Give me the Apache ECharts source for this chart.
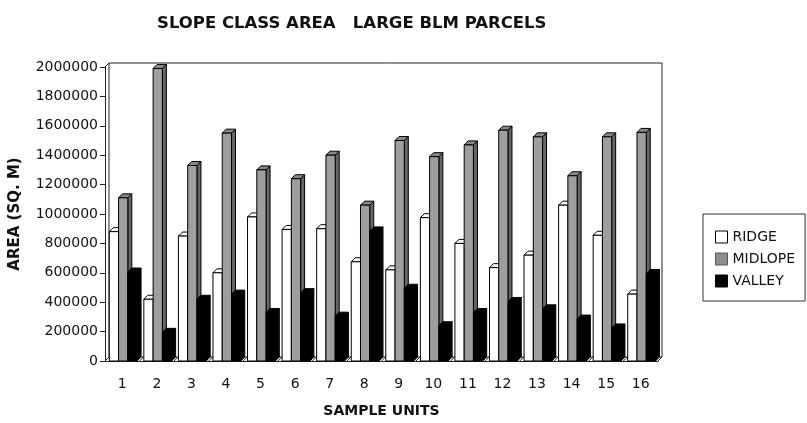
<!DOCTYPE html>
<html>
<head>
<meta charset="utf-8">
<script src="https://cdn.jsdelivr.net/npm/echarts@6/dist/echarts.min.js"></script>
<style>
  html, body { margin: 0; padding: 0; background: #fff; }
  #chart { width: 807px; height: 423px; }
</style>
</head>
<body>
<div id="chart"></div>
<script>
// Sample units along the x axis
var sampleUnits = ['1','2','3','4','5','6','7','8','9','10','11','12','13','14','15','16'];

// Slope class areas (sq. m) per sample unit
var ridge   = [880000, 420000, 850000, 600000, 980000, 895000, 900000, 675000, 620000, 975000, 800000, 635000, 720000, 1060000, 855000, 455000];
var midlope = [1110000, 1990000, 1330000, 1550000, 1300000, 1240000, 1400000, 1060000, 1500000, 1390000, 1470000, 1570000, 1525000, 1260000, 1525000, 1555000];
var valley  = [605000, 195000, 420000, 455000, 330000, 465000, 305000, 885000, 495000, 240000, 330000, 405000, 355000, 285000, 225000, 595000];

var FONT = 'DejaVu Sans';
var DEPTH = 4;

// Palette for each slope class: front face, top cap, side face
var styles = {
  RIDGE:   { front: '#ffffff', top: '#ffffff', side: '#ffffff' },
  MIDLOPE: { front: '#9e9e9e', top: '#888888', side: '#666666' },
  VALLEY:  { front: '#000000', top: '#000000', side: '#000000' }
};

// Pseudo-3D column: front rectangle, top parallelogram and right side face
function barSeries(name, values, slot) {
  var st = styles[name];
  return {
    name: name,
    type: 'custom',
    itemStyle: { color: st.front, borderColor: '#000', borderWidth: 1 },
    encode: { x: 0, y: 1 },
    data: values.map(function (v, i) { return [i, v]; }),
    renderItem: function (params, api) {
      var idx = api.value(0);
      var top = api.coord([idx, api.value(1)]);
      var base = api.coord([idx, 0]);
      var band = api.size([1, 0])[0];
      var w = band * 0.268;
      var x = top[0] - band / 2 + band * 0.124 + slot * w;
      var yt = top[1], yb = base[1], d = DEPTH;
      var line = { stroke: '#000', lineWidth: 1 };
      return {
        type: 'group',
        children: [
          { type: 'polygon', shape: { points: [[x + w, yt], [x + w + d, yt - d], [x + w + d, yb - d], [x + w, yb]] },
            style: Object.assign({ fill: st.side }, line) },
          { type: 'polygon', shape: { points: [[x, yt], [x + w, yt], [x + w + d, yt - d], [x + d, yt - d]] },
            style: Object.assign({ fill: st.top }, line) },
          { type: 'rect', shape: { x: x, y: yt, width: w, height: yb - yt },
            style: Object.assign({ fill: st.front }, line) }
        ]
      };
    }
  };
}

// Back wall, left wall and floor outline of the 3D plot box
var frameSeries = {
  type: 'custom',
  silent: true,
  data: [[0, 0]],
  encode: { x: 0, y: 1 },
  renderItem: function (params, api) {
    var cs = params.coordSys;
    var x0 = cs.x, y0 = cs.y, x1 = cs.x + cs.width, y1 = cs.y + cs.height, d = DEPTH;
    var n = sampleUnits.length, band = cs.width / n;
    var s = { stroke: '#222', lineWidth: 1, fill: null };
    var kids = [
      { type: 'polyline', shape: { points: [[x0, y0], [x0 + d, y0 - d], [x1 + d, y0 - d], [x1 + d, y1 - d]] }, style: s },
      { type: 'line', shape: { x1: x0 + d, y1: y0 - d, x2: x0 + d, y2: y1 - d }, style: s },
      { type: 'line', shape: { x1: x0 + d, y1: y1 - d, x2: x1 + d, y2: y1 - d }, style: s }
    ];
    for (var k = 0; k <= n; k++) {
      var xx = x0 + k * band;
      kids.push({ type: 'line', shape: { x1: xx, y1: y1, x2: xx + d, y2: y1 - d }, style: s });
    }
    return { type: 'group', children: kids };
  }
};

var chart = echarts.init(document.getElementById('chart'), null, { renderer: 'canvas' });

chart.setOption({
  animation: false,
  backgroundColor: '#fff',
  textStyle: { fontFamily: FONT },
  title: {
    text: 'SLOPE CLASS AREA   LARGE BLM PARCELS',
    left: 152,
    top: 10,
    textStyle: { fontFamily: FONT, fontSize: 16.5, fontWeight: 'bold', color: '#111' }
  },
  legend: {
    orient: 'vertical',
    left: 703,
    top: 214,
    padding: [16, 10, 13, 12],
    itemWidth: 12,
    itemHeight: 12,
    itemGap: 8,
    borderColor: '#333',
    borderWidth: 1,
    icon: 'rect',
    textStyle: { fontFamily: FONT, fontSize: 14, color: '#111' },
    data: [
      { name: 'RIDGE',   itemStyle: { color: '#fff',    borderColor: '#000', borderWidth: 1 } },
      { name: 'MIDLOPE', itemStyle: { color: '#8e8e8e', borderColor: '#555', borderWidth: 1 } },
      { name: 'VALLEY',  itemStyle: { color: '#000',    borderColor: '#000', borderWidth: 1 } }
    ]
  },
  grid: { left: 104, right: 149, top: 67, bottom: 56 },
  xAxis: {
    type: 'category',
    data: sampleUnits,
    name: 'SAMPLE UNITS',
    nameLocation: 'middle',
    nameGap: 43,
    nameTextStyle: { fontFamily: FONT, fontSize: 14, fontWeight: 'bold', color: '#111' },
    axisLine: { lineStyle: { color: '#222', width: 1 } },
    axisTick: { length: 5, lineStyle: { color: '#222' } },
    axisLabel: { fontFamily: FONT, fontSize: 14, color: '#111', margin: 16 },
    splitLine: { show: false }
  },
  yAxis: {
    type: 'value',
    min: 0,
    max: 2000000,
    interval: 200000,
    name: 'AREA (SQ. M)',
    nameLocation: 'middle',
    nameGap: 82,
    nameTextStyle: { fontFamily: FONT, fontSize: 15, fontWeight: 'bold', color: '#111' },
    axisLine: { show: true, lineStyle: { color: '#222', width: 1 } },
    axisTick: { show: true, length: 5, lineStyle: { color: '#222' } },
    axisLabel: {
      fontFamily: FONT, fontSize: 14, color: '#111', margin: 7,
      formatter: function (v) { return String(v); }
    },
    splitLine: { show: false }
  },
  series: [
    frameSeries,
    barSeries('RIDGE', ridge, 0),
    barSeries('MIDLOPE', midlope, 1),
    barSeries('VALLEY', valley, 2)
  ]
});
</script>
</body>
</html>
